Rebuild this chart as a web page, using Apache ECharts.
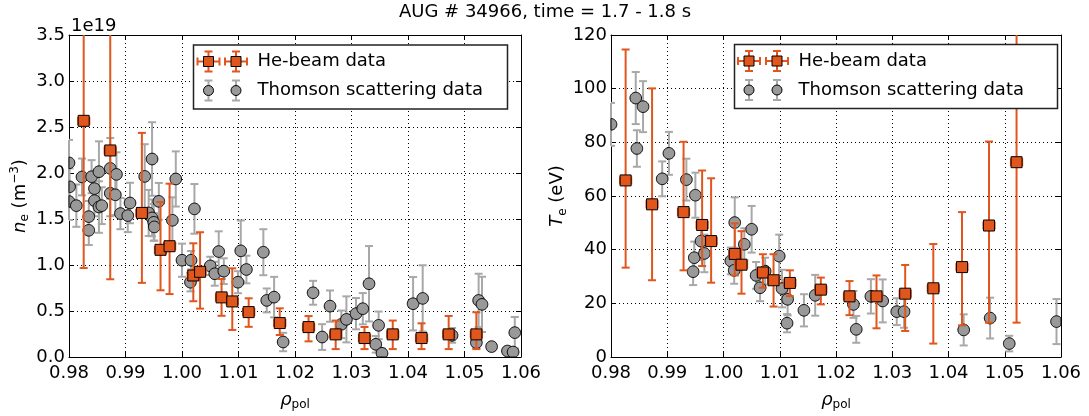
<!DOCTYPE html>
<html>
<head>
<meta charset="utf-8">
<script src="https://cdn.jsdelivr.net/npm/echarts@6/dist/echarts.min.js"></script>
<style>
  html, body { margin: 0; padding: 0; background: #fff; }
  #chart { width: 1089px; height: 416px; }
</style>
</head>
<body>
<div id="chart"></div>
<script>
// He-beam data (same rho grid for both panels), ne in units of 1e19 m^-3
var heRho = [0.9826, 0.9873, 0.9929, 0.9962, 0.9978, 1.0020, 1.0032, 1.0070, 1.0089,
             1.0118, 1.0173, 1.0224, 1.0272, 1.0323, 1.0373, 1.0424, 1.0472, 1.0521];
var heNe   = [2.567, 2.245, 1.566, 1.165, 1.204, 0.886, 0.926, 0.648, 0.604,
              0.488, 0.369, 0.325, 0.246, 0.206, 0.246, 0.206, 0.246, 0.246];
var heNeLo = [1.60, 1.40, 0.76, 0.44, 0.52, 0.28, 0.40, 0.20, 0.31,
              0.16, 0.13, 0.155, 0.16, 0.12, 0.16, 0.12, 0.16, 0.16];
var heNeHi = [1.60, 1.40, 0.87, 0.52, 0.68, 0.35, 0.43, 0.20, 0.36,
              0.15, 0.16, 0.12, 0.15, 0.12, 0.15, 0.16, 0.20, 0.24];
var heTe   = [65.8, 56.9, 54.0, 49.2, 43.2, 38.4, 34.4, 31.5, 28.6,
              27.6, 25.1, 22.6, 22.6, 23.6, 25.6, 33.5, 49.0, 72.6];
var heTeLo = [32.5, 28.3, 21.7, 15.3, 15.5, 8.0, 10.8, 5.7, 9.8,
              4.9, 5.5, 7.0, 11.9, 13.9, 20.6, 21.7, 36.2, 59.8];
var heTeHi = [48.8, 43.2, 26.2, 20.3, 23.4, 11.4, 12.5, 6.8, 9.7,
              4.7, 4.5, 5.7, 7.8, 10.7, 16.5, 20.5, 31.3, 60.0];
var heRhoErr = 0.001;

// Thomson scattering, density panel
var tsNeRho = [0.9800, 0.9801, 0.9800, 0.9813, 0.9823, 0.9835, 0.9835, 0.9840, 0.9845, 0.9845,
               0.9853, 0.9853, 0.9858, 0.9873, 0.9873, 0.9882, 0.9884, 0.9891, 0.9904, 0.9908,
               0.9934, 0.9947, 0.9941, 0.9947, 0.9950, 0.9951, 0.9959, 0.9983, 0.9989, 1.0000,
               1.0016, 1.0015, 1.0022, 1.0050, 1.0058, 1.0065, 1.0074, 1.0099, 1.0104, 1.0114,
               1.0144, 1.0150, 1.0163, 1.0179, 1.0232, 1.0248, 1.0262, 1.0282, 1.0291, 1.0308,
               1.0320, 1.0331, 1.0343, 1.0348, 1.0354, 1.0409, 1.0426, 1.0478, 1.0521, 1.0525,
               1.0531, 1.0548, 1.0576, 1.0586, 1.0589];
var tsNe = [2.11, 1.85, 1.69, 1.645, 1.957, 1.526, 1.377, 1.960, 1.830, 1.700,
            2.014, 1.630, 1.645, 2.050, 1.780, 1.763, 1.985, 1.559, 1.537, 1.674,
            1.963, 2.152, 1.566, 1.512, 1.464, 1.414, 1.692, 1.486, 1.935, 1.052,
            1.052, 0.813, 1.610, 0.990, 0.905, 1.146, 0.933, 0.813, 1.154, 0.951,
            1.139, 0.615, 0.651, 0.163, 0.698, 0.217, 0.553, 0.355, 0.409, 0.471,
            0.525, 0.796, 0.138, 0.344, 0.040, 0.579, 0.637, 0.235, 0.156, 0.615,
            0.572, 0.113, 0.065, 0.054, 0.265];
var tsNeErr = [0.25, 0.20, 0.20, 0.23, 0.20, 0.17, 0.16, 0.18, 0.18, 0.17,
               0.33, 0.28, 0.20, 0.33, 0.25, 0.22, 0.24, 0.17, 0.18, 0.22,
               0.35, 0.40, 0.25, 0.20, 0.20, 0.15, 0.20, 0.25, 0.30, 0.18,
               0.10, 0.10, 0.27, 0.10, 0.13, 0.22, 0.14, 0.12, 0.33, 0.15,
               0.25, 0.13, 0.22, 0.10, 0.13, 0.14, 0.17, 0.15, 0.25, 0.17,
               0.17, 0.41, 0.09, 0.15, 0.05, 0.29, 0.36, 0.08, 0.06, 0.29,
               0.30, 0.04, 0.04, 0.04, 0.17];

// Thomson scattering, temperature panel
var tsTeRho = [0.9800, 0.9844, 0.9846, 0.9857, 0.9891, 0.9903, 0.9934, 0.9950, 0.9948, 0.9946,
               0.9960, 0.9966, 1.0020, 1.0037, 1.0013, 1.0019, 1.0050, 1.0058, 1.0065, 1.0074,
               1.0099, 1.0104, 1.0114, 1.0113, 1.0143, 1.0163, 1.0231, 1.0236, 1.0262, 1.0283,
               1.0308, 1.0321, 1.0427, 1.0474, 1.0508, 1.0592];
var tsTe = [86.7, 96.5, 77.7, 93.3, 66.4, 75.9, 66.1, 60.3, 37.0, 31.8,
            43.2, 38.6, 50.1, 42.0, 35.8, 32.3, 47.6, 30.4, 25.8, 32.0,
            37.6, 25.5, 21.5, 12.6, 17.4, 23.0, 19.6, 10.3, 22.6, 20.9,
            16.9, 16.9, 10.1, 14.5, 5.0, 13.2];
var tsTeErr = [8.0, 9.7, 6.8, 9.5, 6.5, 8.0, 7.8, 8.4, 6.0, 5.0,
               7.0, 7.0, 9.4, 6.0, 5.0, 5.0, 8.7, 5.0, 5.0, 5.0,
               8.0, 7.0, 6.0, 3.4, 6.0, 7.6, 5.0, 5.0, 6.4, 8.0,
               5.0, 6.0, 5.8, 7.6, 2.9, 8.4];

var ORANGE = '#e0561c';
var GRAYFILL = '#999999';
var GRAYBAR = '#a8a8a8';
var FONT = 'DejaVu Sans';

function rows(x, y, lo, hi) {
    return x.map(function (v, i) { return [v, y[i], lo[i], hi[i]]; });
}

// error bars drawn through the axis scales, clipped to the plot box
function errRender(color, cap, xerr) {
    return function (params, api) {
        var cs = params.coordSys;
        var top = cs.y, bot = cs.y + cs.height, lft = cs.x, rgt = cs.x + cs.width;
        var cx = function (v) { return Math.min(Math.max(v, lft), rgt); };
        var x = api.value(0), y = api.value(1);
        var pLo = api.coord([x, y - api.value(2)]);
        var pHi = api.coord([x, y + api.value(3)]);
        var st = { stroke: color, lineWidth: 2 };
        var kids = [];
        kids.push({ type: 'line', shape: { x1: pLo[0], y1: Math.min(pLo[1], bot), x2: pHi[0], y2: Math.max(pHi[1], top) }, style: st });
        if (pHi[1] >= top) kids.push({ type: 'line', shape: { x1: cx(pHi[0] - cap), y1: pHi[1], x2: cx(pHi[0] + cap), y2: pHi[1] }, style: st });
        if (pLo[1] <= bot) kids.push({ type: 'line', shape: { x1: cx(pLo[0] - cap), y1: pLo[1], x2: cx(pLo[0] + cap), y2: pLo[1] }, style: st });
        if (xerr) {
            var l = api.coord([x - xerr, y]), r = api.coord([x + xerr, y]);
            kids.push({ type: 'line', shape: { x1: l[0], y1: l[1], x2: r[0], y2: r[1] }, style: st });
            kids.push({ type: 'line', shape: { x1: l[0], y1: l[1] - cap, x2: l[0], y2: l[1] + cap }, style: st });
            kids.push({ type: 'line', shape: { x1: r[0], y1: r[1] - cap, x2: r[0], y2: r[1] + cap }, style: st });
        }
        return { type: 'group', children: kids };
    };
}

// markers as polygons clamped to the plot box (matplotlib cuts them at the frame)
function markRender(kind, fill) {
    return function (params, api) {
        var cs = params.coordSys;
        var p = api.coord([api.value(0), api.value(1)]);
        var pts = [];
        if (kind === 'rect') {
            pts = [[-5.5, -5.5], [5.5, -5.5], [5.5, 5.5], [-5.5, 5.5]];
        } else {
            for (var k = 0; k < 40; k++) {
                var a = k / 40 * Math.PI * 2;
                pts.push([5.8 * Math.cos(a), 5.8 * Math.sin(a)]);
            }
        }
        pts = pts.map(function (d) {
            return [Math.min(Math.max(p[0] + d[0], cs.x), cs.x + cs.width),
                    Math.min(Math.max(p[1] + d[1], cs.y), cs.y + cs.height)];
        });
        return { type: 'polygon', shape: { points: pts },
                 style: { fill: fill, stroke: '#000', lineWidth: 1 } };
    };
}

var rich = {
    n: { fontFamily: FONT, fontSize: 18, lineHeight: 22, color: '#000' },
    i: { fontFamily: FONT, fontSize: 18, lineHeight: 22, fontStyle: 'italic', color: '#000' },
    sub: { fontFamily: FONT, fontSize: 12, lineHeight: 12, verticalAlign: 'bottom', color: '#000' },
    sup: { fontFamily: FONT, fontSize: 12, lineHeight: 12, verticalAlign: 'top', color: '#000' }
};

function xAx(gi, pos) {
    var bottom = pos === 'bottom';
    return {
        gridIndex: gi, type: 'value', position: pos, min: 0.98, max: 1.06, interval: 0.01,
        axisLine: { show: true, onZero: false, lineStyle: { color: '#000', width: 1 } },
        axisTick: { show: true, inside: true, length: 5, lineStyle: { color: '#000' } },
        axisLabel: { show: bottom, margin: 7, fontFamily: FONT, fontSize: 18, color: '#000',
                     formatter: function (v) { return v.toFixed(2); } },
        splitLine: { show: bottom, lineStyle: { color: '#000', type: [1, 3], width: 1 } },
        name: bottom ? '{i|ρ}{sub|pol}' : '', nameLocation: 'middle', nameGap: 32,
        nameTextStyle: { rich: rich }
    };
}

function yAx(gi, pos, max, iv, dec, name, gap) {
    var left = pos === 'left';
    return {
        gridIndex: gi, type: 'value', position: pos, min: 0, max: max, interval: iv,
        axisLine: { show: true, onZero: false, lineStyle: { color: '#000', width: 1 } },
        axisTick: { show: true, inside: true, length: 5, lineStyle: { color: '#000' } },
        axisLabel: { show: left, margin: 4, fontFamily: FONT, fontSize: 18, color: '#000',
                     formatter: function (v) { return v.toFixed(dec); } },
        splitLine: { show: left, lineStyle: { color: '#000', type: [1, 3], width: 1 } },
        name: left ? name : '', nameLocation: 'middle', nameRotate: 90, nameGap: gap,
        nameTextStyle: { rich: rich }
    };
}

// legend glyphs
function legendBox(x, y, w, h, mx1, mx2, r1, r2, tx) {
    var els = [];
    els.push({ type: 'rect', shape: { x: x, y: y, width: w, height: h },
               style: { fill: '#fff', stroke: '#222', lineWidth: 1.5 }, z: 100 });
    [mx1, mx2].forEach(function (mx) {
        var so = { stroke: ORANGE, lineWidth: 2 };
        els.push({ type: 'line', shape: { x1: mx - 11, y1: r1, x2: mx + 11, y2: r1 }, style: so, z: 101 });
        els.push({ type: 'line', shape: { x1: mx - 11, y1: r1 - 4, x2: mx - 11, y2: r1 + 4 }, style: so, z: 101 });
        els.push({ type: 'line', shape: { x1: mx + 11, y1: r1 - 4, x2: mx + 11, y2: r1 + 4 }, style: so, z: 101 });
        els.push({ type: 'line', shape: { x1: mx, y1: r1 - 10, x2: mx, y2: r1 + 10 }, style: so, z: 101 });
        els.push({ type: 'line', shape: { x1: mx - 4, y1: r1 - 10, x2: mx + 4, y2: r1 - 10 }, style: so, z: 101 });
        els.push({ type: 'line', shape: { x1: mx - 4, y1: r1 + 10, x2: mx + 4, y2: r1 + 10 }, style: so, z: 101 });
        els.push({ type: 'rect', shape: { x: mx - 5, y: r1 - 5, width: 10, height: 10 },
                   style: { fill: ORANGE, stroke: '#000', lineWidth: 1 }, z: 102 });
        var sg = { stroke: GRAYBAR, lineWidth: 2 };
        els.push({ type: 'line', shape: { x1: mx, y1: r2 - 10, x2: mx, y2: r2 + 10 }, style: sg, z: 101 });
        els.push({ type: 'line', shape: { x1: mx - 4, y1: r2 - 10, x2: mx + 4, y2: r2 - 10 }, style: sg, z: 101 });
        els.push({ type: 'line', shape: { x1: mx - 4, y1: r2 + 10, x2: mx + 4, y2: r2 + 10 }, style: sg, z: 101 });
        els.push({ type: 'circle', shape: { cx: mx, cy: r2, r: 5 },
                   style: { fill: GRAYFILL, stroke: '#000', lineWidth: 1 }, z: 102 });
    });
    els.push({ type: 'text', x: tx, y: r1, style: { text: 'He-beam data', font: '18px "DejaVu Sans"', fill: '#000', verticalAlign: 'middle' }, z: 102 });
    els.push({ type: 'text', x: tx, y: r2, style: { text: 'Thomson scattering data', font: '18px "DejaVu Sans"', fill: '#000', verticalAlign: 'middle' }, z: 102 });
    return els;
}

function panelSeries(xi, yi, tsX, tsY, tsErr, heY, heLo, heHi) {
    return [
        { type: 'custom', xAxisIndex: xi, yAxisIndex: yi, z: 2,
          renderItem: errRender(GRAYBAR, 4, 0), encode: { x: 0, y: 1 },
          data: rows(tsX, tsY, tsErr, tsErr) },
        { type: 'custom', xAxisIndex: xi, yAxisIndex: yi, z: 3,
          renderItem: markRender('circle', GRAYFILL), encode: { x: 0, y: 1 },
          data: tsX.map(function (v, i) { return [v, tsY[i]]; }) },
        { type: 'custom', xAxisIndex: xi, yAxisIndex: yi, z: 4,
          renderItem: errRender(ORANGE, 4, heRhoErr), encode: { x: 0, y: 1 },
          data: rows(heRho, heY, heLo, heHi) },
        { type: 'custom', xAxisIndex: xi, yAxisIndex: yi, z: 5,
          renderItem: markRender('rect', ORANGE), encode: { x: 0, y: 1 },
          data: heRho.map(function (v, i) { return [v, heY[i]]; }) }
    ];
}

var chart = echarts.init(document.getElementById('chart'));
chart.setOption({
    animation: false,
    backgroundColor: '#fff',
    grid: [
        { left: 69, top: 35, width: 452, height: 323 },
        { left: 611, top: 35, width: 450, height: 323 }
    ],
    xAxis: [xAx(0, 'bottom'), xAx(0, 'top'), xAx(1, 'bottom'), xAx(1, 'top')],
    yAxis: [
        yAx(0, 'left', 3.5, 0.5, 1, '{i|n}{sub|e}{n| (m}{sup|−3}{n|)}', 38),
        yAx(0, 'right', 3.5, 0.5, 1, '', 0),
        yAx(1, 'left', 120, 20, 0, '{i|T}{sub|e}{n| (eV)}', 42),
        yAx(1, 'right', 120, 20, 0, '', 0)
    ],
    graphic: [
        { type: 'text', x: 545, y: 12, style: { text: 'AUG # 34966, time = 1.7 - 1.8 s', font: '18px "DejaVu Sans"', fill: '#000', align: 'center', verticalAlign: 'middle' } },
        { type: 'text', x: 71, y: 26, style: { text: '1e19', font: '18px "DejaVu Sans"', fill: '#000', verticalAlign: 'middle' } }
    ].concat(legendBox(193.5, 45, 314, 64, 208.5, 236, 61.5, 90.5, 257.5))
     .concat(legendBox(734.5, 44.5, 323, 64, 749, 777, 61, 90, 798.5)),
    series: panelSeries(0, 0, tsNeRho, tsNe, tsNeErr, heNe, heNeLo, heNeHi)
        .concat(panelSeries(2, 2, tsTeRho, tsTe, tsTeErr, heTe, heTeLo, heTeHi))
});
</script>
</body>
</html>
